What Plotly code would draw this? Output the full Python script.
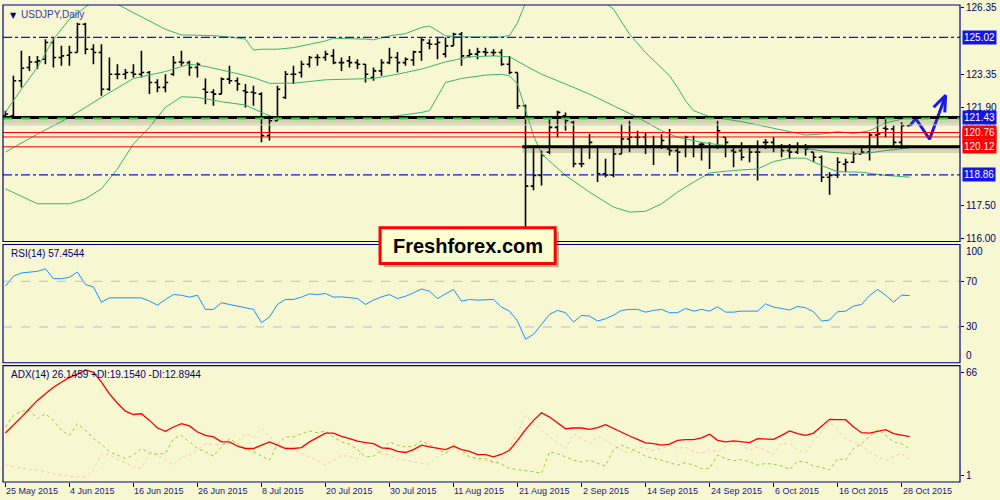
import plotly.graph_objects as go

# USDJPY daily, bar index 0 = 25 May 2015 (trading days only)
bars = list(range(114))

opens = [121.51,121.51,123.08,123.67,123.92,124.04,124.79,124.12,124.22,124.34,
         125.61,124.49,124.34,122.70,123.37,123.37,123.45,123.37,123.45,123.00,
         122.78,123.37,123.92,123.89,123.67,122.70,122.56,122.48,123.15,123.08,
         122.63,122.56,122.48,120.62,121.29,122.33,123.37,123.45,123.82,124.12,
         124.12,124.19,123.89,123.97,123.89,123.82,123.22,123.52,123.89,124.12,
         123.89,124.01,124.37,124.76,124.71,124.27,124.64,125.16,124.19,124.27,
         124.37,124.34,124.34,123.82,123.45,121.96,118.36,118.84,119.88,120.99,
         121.51,121.22,119.36,120.10,120.10,118.91,118.86,119.80,120.47,120.55,
         120.55,120.17,120.17,120.02,119.95,120.10,120.10,120.23,120.10,120.10,
         120.55,119.95,119.95,120.10,119.88,120.32,120.32,120.17,119.95,119.88,
         120.10,119.88,119.65,118.76,118.86,119.34,119.43,119.80,119.88,120.65,
         120.95,120.92,120.32,121.07]
highs = [121.74,123.30,124.42,124.19,124.19,124.94,125.01,124.64,124.64,125.68,
         125.68,124.71,124.71,124.12,123.82,123.60,123.82,124.42,123.52,123.15,
         123.37,124.19,124.42,123.97,123.89,123.18,122.70,123.22,123.75,123.22,
         122.93,122.85,122.56,121.51,122.85,123.52,123.75,123.97,124.19,124.27,
         124.42,124.49,124.12,124.19,124.04,123.82,123.67,124.04,124.56,124.37,
         124.12,124.42,125.01,124.94,125.01,125.01,125.23,125.26,124.49,124.56,
         124.56,124.49,124.49,124.19,123.45,122.02,120.17,119.95,121.44,121.74,
         121.66,121.29,120.10,120.70,120.10,119.58,120.17,121.14,121.29,120.84,
         120.77,120.62,120.68,120.92,120.17,120.62,120.62,120.32,120.32,121.29,
         120.55,120.10,120.32,120.17,120.40,120.47,120.55,120.25,120.25,120.32,
         120.25,119.88,119.73,118.98,119.65,119.58,119.91,120.17,120.77,121.44,
         121.44,121.07,121.22,121.13]
lows = [121.44,121.44,122.78,123.52,123.60,123.82,123.67,123.75,123.75,124.34,
        124.27,123.82,122.41,122.63,123.15,123.15,123.22,123.22,122.48,122.56,
        122.56,123.30,123.75,123.30,123.22,122.03,121.96,122.48,122.93,122.63,
        121.88,121.96,120.32,120.40,121.29,122.26,122.93,123.22,123.67,123.75,
        123.97,123.82,123.52,123.67,123.60,123.00,123.08,123.30,123.82,123.45,
        123.75,123.75,123.97,124.49,124.04,124.12,124.64,123.75,124.12,124.04,
        124.19,124.19,123.75,123.37,121.81,116.39,118.17,118.39,119.80,120.55,
        120.84,119.21,119.21,119.58,118.54,118.76,118.76,119.80,119.88,120.10,
        119.80,119.31,120.02,119.73,118.98,119.65,119.65,119.51,119.13,120.02,
        119.65,119.21,119.51,119.43,118.61,120.02,119.88,119.65,119.58,119.80,
        119.73,119.43,118.54,117.97,118.72,118.98,119.39,119.80,119.51,120.10,
        120.55,120.10,120.02,121.04]
closes = [121.59,123.08,123.64,123.92,123.97,124.79,124.12,124.19,124.34,125.61,
          124.49,124.34,122.70,123.37,123.37,123.45,123.37,123.45,123.00,122.78,
          123.00,123.89,123.89,123.67,123.82,122.56,122.48,123.15,123.08,122.93,
          122.56,122.53,120.62,121.29,122.70,123.37,123.37,123.82,124.12,124.12,
          124.27,123.89,123.89,123.89,123.82,123.37,123.52,123.89,124.12,123.89,
          124.04,124.37,124.91,124.71,124.79,124.64,125.16,124.19,124.27,124.37,
          124.34,124.34,123.82,123.45,121.96,118.36,118.84,119.73,120.99,121.66,
          121.29,119.36,119.36,120.32,118.91,118.86,119.80,120.47,120.55,120.55,
          120.17,120.10,120.40,119.95,119.88,120.55,120.10,120.23,120.10,120.84,
          120.32,119.88,119.65,119.88,119.88,120.32,120.10,119.95,119.88,120.10,
          120.02,119.65,118.76,118.84,119.43,119.43,119.80,119.88,120.65,120.70,
          120.92,120.32,121.07,121.10]

# Bollinger bands (sampled along the drawn curves)
bb_up_x = [0,2,4,6,8,10,11,12,13,14,16,18,20,22,24,26,28,30,31,32,34,36,38,40,41,
           43,45,46,48,50,52,53,55,57,60,62,63,64,65,66,68,72,76,78,80,82,83,84,85,
           86,88,90,92,94,96,98,100,102,104,106,108,110,112,113]
bb_up = [121.66,122.70,123.67,124.94,125.83,126.35,126.65,126.8,126.8,126.50,
         126.13,125.75,125.38,125.13,125.11,125.10,125.04,124.94,124.45,124.49,
         124.49,124.56,124.71,124.86,124.98,124.97,124.94,124.91,125.09,125.19,
         125.46,125.53,125.09,125.04,125.04,125.04,125.11,125.68,126.57,127.5,
         128.0,127.4,126.28,125.16,124.34,123.67,123.30,122.78,122.18,121.74,
         121.47,121.36,121.25,121.10,120.95,120.80,120.65,120.69,120.80,120.72,
         120.84,121.19,121.37,121.44]
bb_mid_x = [0,4,8,12,16,20,23,25,28,31,33,36,40,43,46,49,52,55,58,61,63,65,67,70,
            73,76,79,82,84,87,90,94,98,100,103,106,108,110,113]
bb_mid = [119.88,120.69,121.44,122.33,123.18,123.49,123.82,123.72,123.48,123.22,
          122.96,122.97,123.12,123.15,123.18,123.37,123.60,123.92,124.15,124.19,
          124.15,123.75,123.37,122.93,122.48,121.96,121.44,120.84,120.55,120.32,
          120.17,120.14,120.17,120.05,119.88,119.80,119.85,119.95,120.07]
bb_lo_x = [0,4,8,10,12,14,16,18,20,22,24,27,30,32,34,40,43,47,50,52,53,55,57,60,62,
           63,64,65,66,67,70,73,76,78,80,82,84,86,88,91,94,96,98,100,102,104,107,110,113]
bb_lo = [118.24,117.57,117.57,117.79,118.24,119.13,120.25,120.99,121.89,122.36,
         122.33,122.14,121.99,121.66,121.37,121.37,121.37,121.41,121.54,121.66,
         121.74,123.00,123.18,123.33,123.37,123.30,122.93,121.74,120.62,119.80,
         118.84,118.09,117.42,117.20,117.23,117.57,118.09,118.54,118.95,119.06,
         119.13,119.46,119.61,119.61,119.28,119.01,118.98,118.84,118.76]

rsi = [65.7,74.4,77.3,77.9,78.7,81.0,72.3,72.3,73.5,78.1,
       67.1,65.1,51.7,55.5,55.5,54.9,55.5,55.5,52.6,49.1,
       54.1,58.4,57.8,56.1,57.8,45.4,45.4,51.2,49.7,48.3,
       46.8,45.4,33.8,38.7,49.7,54.1,54.1,56.1,59.0,58.4,
       59.3,56.1,56.4,55.5,54.9,49.7,53.5,56.4,58.4,54.9,
       56.9,59.9,63.3,61.3,54.9,59.0,62.8,52.6,54.1,53.5,
       54.1,54.1,47.4,43.9,35.2,19.3,23.6,32.3,41.0,44.5,
       42.5,34.3,40.1,39.6,35.2,37.2,40.4,44.5,45.4,45.4,
       43.0,44.5,45.4,42.5,42.5,46.2,43.9,45.4,43.9,47.7,
       43.0,43.0,43.9,43.9,43.9,50.3,47.4,46.2,44.8,48.0,
       46.8,43.3,35.2,36.1,43.3,43.9,48.3,49.7,57.5,62.8,
       57.8,51.7,57.8,57.5]

adx = [28.2,32.6,37.4,42.2,47.0,50.8,54.6,57.5,60.3,62.2,
       64.5,63.2,57.5,50.8,45.4,40.8,38.9,39.3,35.5,31.1,
       29.2,31.7,33.6,32.3,28.8,26.9,26.0,23.1,23.1,20.6,
       19.3,19.3,21.2,23.1,21.2,19.3,19.3,19.8,23.1,25.6,
       28.2,28.2,26.3,25.0,23.5,22.7,22.1,19.7,19.3,17.7,
       17.0,18.7,21.2,20.2,19.3,18.7,20.6,18.7,17.7,15.8,
       15.8,14.5,16.0,18.3,24.0,30.2,35.5,39.9,37.4,34.0,
       30.7,31.1,31.1,30.3,31.3,33.0,30.7,28.4,26.5,24.6,
       22.5,22.1,21.2,21.8,24.0,24.4,24.4,25.4,27.5,24.0,
       23.1,23.7,23.1,22.7,25.0,24.6,24.6,26.9,29.4,27.9,
       26.9,28.2,32.3,36.1,35.9,35.9,31.7,28.4,28.2,29.2,
       30.2,27.9,26.9,26.1]
plus_di = [31.7,38.4,40.8,41.2,36.5,39.3,35.5,29.8,26.9,33.6,
           29.8,25.0,21.8,17.4,15.5,13.5,15.5,19.3,16.8,16.0,
           16.4,25.0,26.9,23.1,19.3,17.4,14.9,20.2,25.0,22.1,
           19.3,17.4,14.9,12.6,21.8,26.0,26.0,27.9,29.4,28.4,
           29.4,26.0,23.1,21.8,18.7,14.5,14.9,18.3,23.1,21.2,
           20.2,20.6,23.7,21.2,19.3,16.4,21.8,18.3,14.5,13.5,
           13.5,11.6,10.3,7.8,7.2,6.9,5.9,5.0,17.4,16.4,
           14.5,12.6,11.6,12.6,10.7,9.2,18.7,21.2,19.3,17.4,
           14.9,13.5,12.6,11.1,9.7,11.1,9.7,7.8,7.8,15.5,
           13.5,12.2,13.0,11.6,9.7,10.7,10.3,9.2,7.2,12.0,
           11.6,9.2,8.4,6.9,13.5,12.6,19.3,22.1,26.0,30.2,
           26.9,23.1,22.1,19.2]
minus_di = [9.7,8.8,7.8,7.3,6.9,6.0,5.0,4.0,3.0,3.0,
            3.0,6.9,16.4,15.5,13.5,11.1,8.8,7.8,16.4,15.5,
            13.0,9.7,14.5,15.5,18.7,21.8,21.8,21.2,22.1,23.1,
            27.9,26.0,30.7,26.0,22.1,20.2,18.3,16.4,14.5,12.6,
            9.7,12.6,15.5,14.5,13.5,22.1,20.2,16.4,15.5,13.5,
            12.6,11.6,10.7,10.3,14.5,16.4,19.3,16.4,14.5,12.6,
            12.4,11.1,12.6,20.2,27.9,38.4,33.6,29.8,26.0,22.5,
            19.3,27.9,25.0,22.1,26.0,24.0,21.2,18.3,16.4,20.2,
            19.3,18.3,19.3,21.2,19.3,20.2,17.4,16.4,18.7,17.4,
            20.6,23.1,21.2,18.3,20.2,18.3,16.0,22.5,22.1,18.7,
            16.8,24.0,28.8,34.5,29.8,25.0,23.1,21.2,17.4,14.5,
            12.6,14.5,16.4,12.9]

date_ticks = list(range(0, 113, 8))
date_labels = ['25 May 2015', '4 Jun 2015', '16 Jun 2015', '26 Jun 2015', '8 Jul 2015',
               '20 Jul 2015', '30 Jul 2015', '11 Aug 2015', '21 Aug 2015', '2 Sep 2015',
               '14 Sep 2015', '24 Sep 2015', '6 Oct 2015', '16 Oct 2015', '28 Oct 2015']
price_ticks = [126.35, 123.35, 121.90, 117.50, 116.00]
# scale labels at the panel edges (drawn a little inside, as the terminal does)
rsi_edge_labels = [(96.0, '100'), (4.8, '0')]
adx_edge_labels = [(63.0, '66'), (4.0, '1')]

# drawn levels
blue_levels = [125.02, 118.86]
resist = 121.43
support = 120.12
red_levels = [120.76, 120.56, 120.12]
bid = 121.10
# hand-drawn forecast arrow (bar index, price)
arrow_x = [113.1, 113.75, 115.5, 117.5, None, 116.0, 117.5, 117.4]
arrow_y = [121.08, 121.39, 120.46, 122.42, None, 121.89, 122.42, 121.66]

bg = '#F7F7D2'
navy = '#000080'
font = 'Liberation Sans'

fig = go.Figure()
fig.add_trace(go.Ohlc(x=bars, open=opens, high=highs, low=lows, close=closes,
                      increasing_line_color='black', decreasing_line_color='black',
                      line_width=1.6, tickwidth=0.35, xaxis='x', yaxis='y'))
for bx, by in [(bb_up_x, bb_up), (bb_mid_x, bb_mid), (bb_lo_x, bb_lo)]:
    fig.add_trace(go.Scatter(x=bx, y=by, mode='lines', line=dict(color='#3CB371', width=1),
                             xaxis='x', yaxis='y'))
fig.add_trace(go.Scatter(x=arrow_x, y=arrow_y, mode='lines',
                         line=dict(color='#1A1AE6', width=3), xaxis='x', yaxis='y'))

fig.add_trace(go.Scatter(x=bars, y=rsi, mode='lines', line=dict(color='#1E90FF', width=1),
                         xaxis='x', yaxis='y2'))

fig.add_trace(go.Scatter(x=bars, y=minus_di, mode='lines',
                         line=dict(color='#F0CFA0', width=1, dash='dot'), xaxis='x', yaxis='y3'))
fig.add_trace(go.Scatter(x=bars, y=plus_di, mode='lines',
                         line=dict(color='#9ACD32', width=1, dash='dot'), xaxis='x', yaxis='y3'))
fig.add_trace(go.Scatter(x=bars, y=adx, mode='lines', line=dict(color='#FF0000', width=1.3),
                         xaxis='x', yaxis='y3'))

shapes = []
for lv in blue_levels:
    shapes.append(dict(type='line', xref='paper', x0=0, x1=1, yref='y', y0=lv, y1=lv,
                       line=dict(color='#1010F0', width=1.2, dash='dashdot')))
for lv in red_levels:
    shapes.append(dict(type='line', xref='paper', x0=0, x1=1, yref='y', y0=lv, y1=lv,
                       line=dict(color='#FF0000', width=1)))
shapes.append(dict(type='line', xref='paper', x0=0, x1=1, yref='y', y0=bid, y1=bid,
                   line=dict(color='#C8C8C8', width=1)))
# resistance with glow + green dashed
shapes.append(dict(type='line', xref='paper', x0=0, x1=1, yref='y', y0=resist - 0.1, y1=resist - 0.1,
                   line=dict(color='rgba(90,90,70,0.22)', width=8)))
shapes.append(dict(type='line', xref='paper', x0=0, x1=1, yref='y', y0=resist, y1=resist,
                   line=dict(color='black', width=3)))
shapes.append(dict(type='line', xref='paper', x0=0, x1=1, yref='y', y0=resist - 0.04, y1=resist - 0.04,
                   line=dict(color='#22DD22', width=2, dash='dash')))
# support from 21 Aug onwards
shapes.append(dict(type='line', xref='x', x0=64.6, x1=119.3, yref='y', y0=support - 0.1, y1=support - 0.1,
                   line=dict(color='rgba(90,90,70,0.22)', width=8)))
shapes.append(dict(type='line', xref='x', x0=64.6, x1=119.3, yref='y', y0=support, y1=support,
                   line=dict(color='black', width=3)))
# RSI levels
for lv in [70, 30]:
    shapes.append(dict(type='line', xref='paper', x0=0, x1=1, yref='y2', y0=lv, y1=lv,
                       line=dict(color='#BEBEBE', width=1, dash='dash')))
# panel frames
for ax in ['y', 'y2', 'y3']:
    shapes.append(dict(type='rect', xref='paper', x0=0, x1=1, yref=ax + ' domain', y0=0, y1=1,
                       line=dict(color=navy, width=1.2)))
# Freshforex label box
shapes.append(dict(type='rect', xref='paper', yref='paper', x0=0.398, x1=0.581, y0=0.450, y1=0.525,
                   fillcolor='rgba(60,60,40,0.35)', line=dict(width=0)))
shapes.append(dict(type='rect', xref='paper', yref='paper', x0=0.394, x1=0.577, y0=0.458, y1=0.533,
                   fillcolor='#FFFFD0', line=dict(color='#FF0000', width=3)))

ann = []
ann.append(dict(xref='paper', yref='paper', x=0.4855, y=0.4955, text='<b>Freshforex.com</b>',
                showarrow=False, font=dict(family=font, size=20, color='black')))
ann.append(dict(xref='paper', yref='y domain', x=0.005, y=0.985, xanchor='left', yanchor='top',
                text='▼', showarrow=False, font=dict(family='DejaVu Sans', size=8, color=navy)))
ann.append(dict(xref='paper', yref='y domain', x=0.017, y=0.992, xanchor='left', yanchor='top',
                text='USDJPY,Daily', showarrow=False, font=dict(family=font, size=10, color='#3838B0')))
ann.append(dict(xref='paper', yref='y2 domain', x=0.006, y=0.985, xanchor='left', yanchor='top',
                text='RSI(14) 57.4544', showarrow=False, font=dict(family=font, size=10, color=navy)))
ann.append(dict(xref='paper', yref='y3 domain', x=0.006, y=0.985, xanchor='left', yanchor='top',
                text='ADX(14) 26.1459 +DI:19.1540 -DI:12.8944', showarrow=False,
                font=dict(family=font, size=10, color=navy)))
for t, lab in zip(date_ticks, date_labels):
    ann.append(dict(xref='x', yref='paper', x=t, y=-0.019, xanchor='left', yanchor='middle',
                    text=lab, showarrow=False, xshift=-1, font=dict(family=font, size=9, color='#1A1A80')))
for yref, labels in [('y2', rsi_edge_labels), ('y3', adx_edge_labels)]:
    for v, lab in labels:
        ann.append(dict(xref='paper', yref=yref, x=1.004, y=v, xanchor='left', yanchor='middle',
                        text=lab, showarrow=False, font=dict(family=font, size=10, color='#00006E')))
# price labels on the right axis
ann.append(dict(xref='paper', yref='y', x=1.002, y=bid, xanchor='left', text='%.2f' % bid,
                showarrow=False, font=dict(family=font, size=10, color='#A0A0A0')))
box_labels = [(125.02, '#1414E6'), (resist, '#1414E6'), (120.56, '#FF0000'),
              (120.76, '#FF0000'), (support, '#FF0000'), (118.86, '#1414E6')]
for lv, col in box_labels:
    ann.append(dict(xref='paper', yref='y', x=1.002, y=lv, xanchor='left', text='%.2f' % lv,
                    showarrow=False, bgcolor=col, borderpad=1,
                    font=dict(family=font, size=10, color='white')))

axis_common = dict(side='right', anchor='x', showgrid=False, zeroline=False, ticks='outside',
                   ticklen=3, tickcolor=navy, tickfont=dict(family=font, size=10, color='#00006E'),
                   showline=False, ticklabeloverflow='allow')

fig.update_layout(
    width=1000, height=500,
    margin=dict(l=3, r=40, t=2, b=18),
    paper_bgcolor=bg, plot_bgcolor=bg,
    showlegend=False,
    xaxis=dict(range=[-0.3, 119.3], domain=[0, 1], anchor='y3', tickvals=date_ticks,
               showticklabels=False, ticks='outside', ticklen=4, tickcolor=navy,
               showgrid=False, zeroline=False, rangeslider=dict(visible=False)),
    yaxis=dict(domain=[0.5042, 1], range=[115.88, 126.47], tickvals=price_ticks,
               ticktext=['%.2f' % v for v in price_ticks], **axis_common),
    yaxis2=dict(domain=[0.25, 0.4979], range=[-1.3, 102.2], tickvals=[30, 70],
                **axis_common),
    yaxis3=dict(domain=[0, 0.2438], range=[0, 67], tickvals=[63.0, 4.0], showticklabels=False,
                **axis_common),
    shapes=shapes,
    annotations=ann,
)

# page body has a default margin; drop it so the chart sits at the window corner
fig.write_html("out.html", config={'displayModeBar': False},
               post_script="document.body.style.margin='0';document.body.style.overflow='hidden';")
